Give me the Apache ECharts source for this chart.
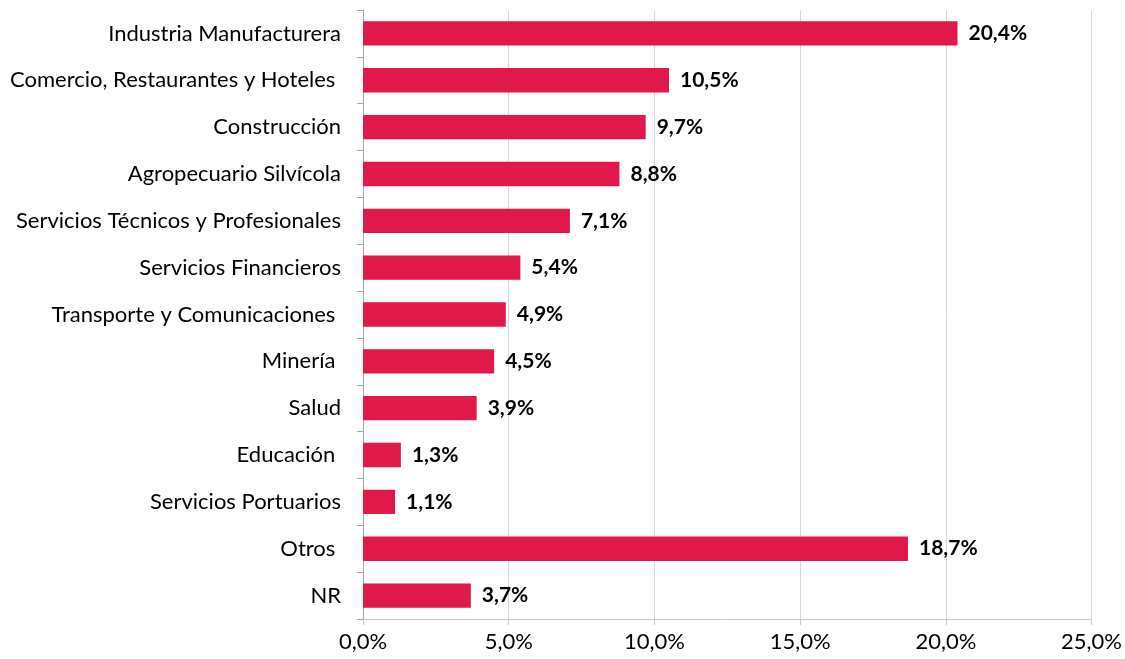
<!DOCTYPE html>
<html>
<head>
<meta charset="utf-8">
<script src="https://cdn.jsdelivr.net/npm/echarts@6/dist/echarts.min.js"></script>
<style>
  html, body { margin: 0; padding: 0; background: #fff; }
  #main { width: 1125px; height: 659px; }
</style>
</head>
<body>
<div id="main"></div>
<script>
// datos, de arriba hacia abajo
var categories = ['Industria Manufacturera', 'Comercio, Restaurantes y Hoteles ', 'Construcción',
  'Agropecuario Silvícola', 'Servicios Técnicos y Profesionales', 'Servicios Financieros',
  'Transporte y Comunicaciones ', 'Minería ', 'Salud', 'Educación ', 'Servicios Portuarios', 'Otros ', 'NR'];
var values = [20.4, 10.5, 9.7, 8.8, 7.1, 5.4, 4.9, 4.5, 3.9, 1.3, 1.1, 18.7, 3.7];
var xTicks = [0, 5, 10, 15, 20, 25];

function fmt(v, d) { return v.toFixed(d).replace('.', ',') + '%'; }

var myChart = echarts.init(document.getElementById('main'));

var option = {
  animation: false,
  textStyle: { fontFamily: 'Lato' },
  grid: { left: 363, right: 33, top: 10, bottom: 40, containLabel: false },
  xAxis: {
    type: 'value',
    min: xTicks[0],
    max: xTicks[xTicks.length - 1],
    interval: 5,
    axisLine: { show: true, lineStyle: { color: '#c8c8c8' } },
    axisTick: { show: true, length: 6, lineStyle: { color: '#c8c8c8' } },
    splitLine: { show: true, lineStyle: { color: '#d9d9d9', width: 1 } },
    axisLabel: { color: '#000', fontSize: 22, margin: 12, formatter: function (v) { return fmt(v, 1); } }
  },
  yAxis: {
    type: 'category',
    inverse: true,
    data: categories,
    axisLine: { show: true, lineStyle: { color: '#a6a6a6' } },
    axisTick: { show: true, length: 6, lineStyle: { color: '#a6a6a6' } },
    axisLabel: { color: '#000', fontSize: 22, margin: 22 }
  },
  series: [{
    type: 'bar',
    data: values,
    barWidth: '52%',
    itemStyle: { color: '#E0194A' },
    label: {
      show: true,
      position: 'right',
      distance: 11,
      color: '#000',
      fontWeight: 'bold',
      fontSize: 21,
      formatter: function (p) { return fmt(p.value, 1); }
    }
  }]
};
myChart.setOption(option);
</script>
</body>
</html>
